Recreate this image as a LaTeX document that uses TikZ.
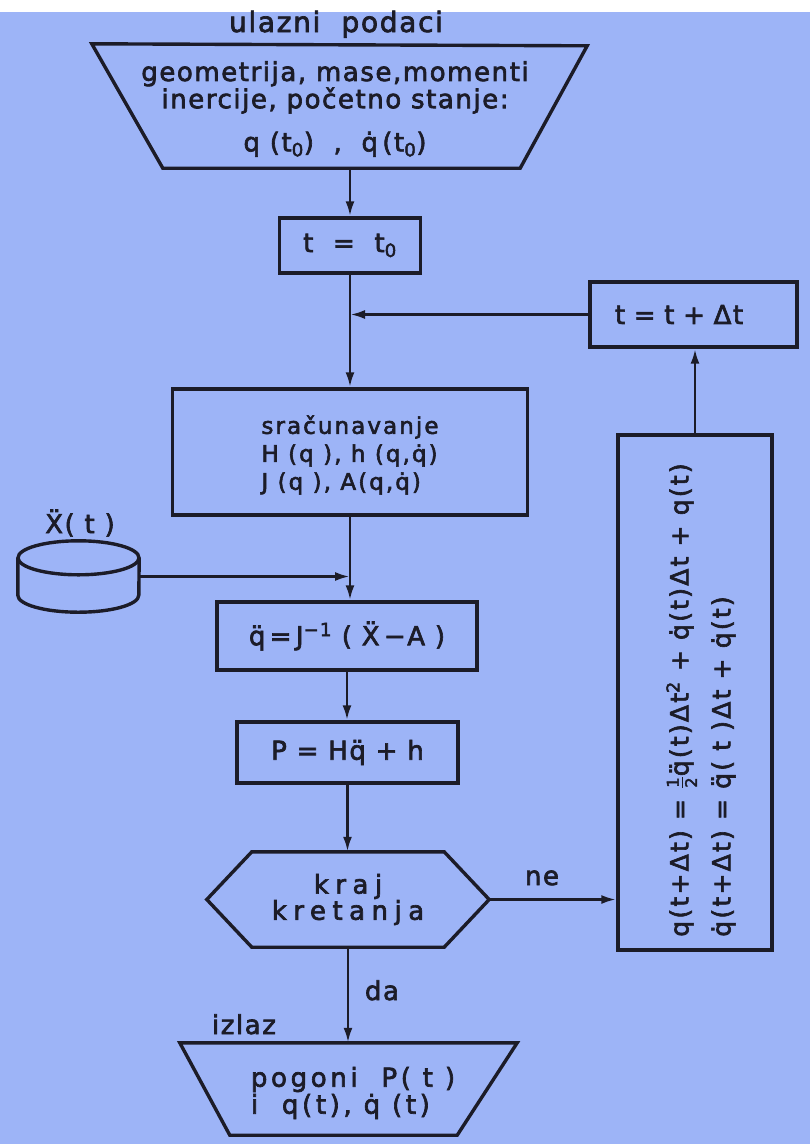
\documentclass[tikz,border=0pt]{standalone}
\usepackage{fontspec}
\setmainfont{DejaVu Sans}[FakeBold=2.5]
\usetikzlibrary{arrows.meta}
\definecolor{bg}{RGB}{157,180,247}
\definecolor{ink}{RGB}{28,28,40}
\newcommand{\qd}{q̇}
\newcommand{\qdd}{q̈}
\newcommand{\Xdd}{Ẍ}
\newcommand{\fs}[2]{\fontsize{#1}{#2}\selectfont}
\begin{document}
\begin{tikzpicture}[x=1pt,y=1pt,
  txt/.style={text=ink, inner sep=0pt, font={\fs{26}{26}\addfontfeature{LetterSpace=6}}},
  box/.style={draw=ink, line width=3.4pt, text=ink, inner sep=0pt, font={\fs{26}{26}\addfontfeature{LetterSpace=6}}},
  helper/.style={inner sep=0pt, draw=none},
  shp/.style={draw=ink, line width=3.4pt},
  conn/.style={draw=ink, line width=2.8pt},
  arr/.style={conn, -{Latex[length=15pt,width=9pt]}}]
\fill[white] (0,0) rectangle (810,-12);
\fill[bg] (0,-12) rectangle (810,-1144);
\useasboundingbox (0,0) rectangle (810,-1144);

% input
\node[txt, anchor=base, font={\fs{28}{28}\addfontfeature{LetterSpace=6}}] (inlab) at (336,-32) {ulazni\ \ podaci};
\node[helper, minimum width=357pt, minimum height=124pt] (in) at (341.5,-106) {};
\draw[shp] ([xshift=-71pt]in.north west) -- ([xshift=67pt,yshift=-2pt]in.north east) -- (in.south east) -- (in.south west) -- cycle;
\node[txt, align=center, font={\fs{26}{25}\addfontfeature{LetterSpace=6}}] (intext) at (335,-109)
  {geometrija, mase,momenti\\inercije, početno stanje:\\[17pt]q (t\textsubscript{0})\ \ ,\ \ \qd\,(t\textsubscript{0})};

% t = t0
\node[box, minimum width=141pt, minimum height=55pt] (t0) at (350,-245.5) {t\ \ =\ \ t\textsubscript{0}};

% calculation
\node[box, minimum width=355pt, minimum height=126pt] (calc) at (350,-452) {};
\node[txt, align=left, font={\fs{23}{23}\addfontfeature{LetterSpace=9}}] (calctxt) at (350,-455)
  {sračunavanje\\[5pt]H (q ), h (q,\qd)\\[5pt]J (q ), A(q,\qd)};

% storage
\node[helper, minimum width=121pt, minimum height=37pt] (cyl) at (78.5,-576.5) {};
\draw[shp] (cyl.north) ellipse[x radius=60.5pt, y radius=17pt];
\draw[shp] (cyl.north west) -- (cyl.south west) arc[start angle=180, end angle=360, x radius=60.5pt, y radius=17pt] -- (cyl.north east);
\node[txt] (xlab) at (80,-523) {\Xdd( t )};

% qdd
\node[box, minimum width=260pt, minimum height=68pt] (qdd) at (347,-636) {\qdd\,=\,J\textsuperscript{−1}\ ( \Xdd\,−A )};

% P
\node[box, minimum width=221pt, minimum height=61pt] (P) at (347.5,-752.5) {P = H\qdd\ + h};

% decision
\node[helper, minimum width=192pt, minimum height=95pt, align=center, text=ink, font={\fs{26}{25}\addfontfeature{LetterSpace=25}}] (kraj) at (348,-899.5) {kraj\\kretanja};
\draw[shp] (kraj.north west) -- (kraj.north east) -- ([xshift=45pt]kraj.east) -- (kraj.south east) -- (kraj.south west) -- ([xshift=-45pt]kraj.west) -- cycle;

% output
\node[txt, anchor=base] (izlaz) at (244,-1034) {izlaz};
\node[helper, minimum width=227pt, minimum height=92pt] (out) at (343.5,-1089) {};
\draw[shp] ([xshift=-50pt]out.north west) -- ([xshift=60pt]out.north east) -- (out.south east) -- (out.south west) -- cycle;
\node[txt, align=left, font={\fs{26}{27}\addfontfeature{LetterSpace=14}}] (outtxt) at (353,-1093) {pogoni\ \ P( t )\\i\ \ q(t), \qd\ (t)};

% loop
\node[box, minimum width=207pt, minimum height=65pt, text width=157pt, inner xsep=25pt, align=left] (tdt) at (693.5,-314.5) {t = t + Δt};
\node[box, minimum width=154pt, minimum height=515pt] (big) at (695,-692.5) {};
\node[txt, rotate=90, align=left, font={\fs{25}{42}\addfontfeature{LetterSpace=9}}] (bigtxt) at (701,-700)
  {q(t+Δt) = $\frac{\hbox{\fs{16}{16}1}}{\hbox{\fs{16}{16}2}}$\qdd(t)Δt\textsuperscript{2} + \qd(t)Δt + q(t)\\\qd(t+Δt) = \qdd( t )Δt + \qd(t)};

% labels
\node[txt, anchor=base] (ne) at (542,-885) {ne};
\node[txt, anchor=base] (da) at (382,-1000) {da};

% connectors
\draw[arr] (t0.north |- in.south) -- (t0.north);
\draw[arr] (t0.south) -- (calc.north);
\draw[arr] (tdt.west) -- (t0.south |- tdt.west);
\draw[arr] (calc.south) -- (calc.south |- qdd.north);
\draw[arr] (cyl.east) -- (calc.south |- cyl.east);
\draw[arr] (qdd.south) -- (qdd.south |- P.north);
\draw[arr] (P.south) -- (P.south |- kraj.north);
\draw[arr] (kraj.south) -- (kraj.south |- out.north);
\draw[arr] ([xshift=45pt]kraj.east) -- (big.west |- kraj.east);
\draw[arr] (big.north) -- (big.north |- tdt.south);
\end{tikzpicture}
\end{document}
